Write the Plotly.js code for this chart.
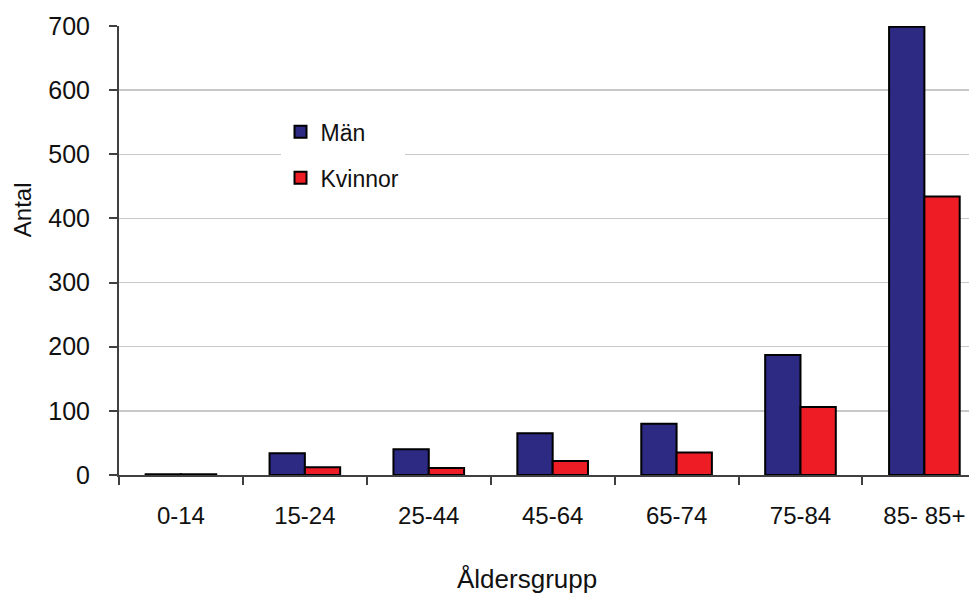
<!DOCTYPE html>
<html>
<head>
<meta charset="utf-8">
<script src="https://cdn.plot.ly/plotly-3.0.1.min.js"></script>
<style>html,body{margin:0;padding:0;background:#fff;}#chart{width:969px;height:595px;}</style>
</head>
<body>
<div id="chart"></div>
<script>
const categories = ["0-14", "15-24", "25-44", "45-64", "65-74", "75-84", "85- 85+"];
const man = [1, 34, 40, 65, 80, 187, 699];
const kvinnor = [1, 12, 11, 22, 35, 106, 434];
const seriesNames = ["Män", "Kvinnor"];
const yTicks = [0, 100, 200, 300, 400, 500, 600, 700];

const font = "Liberation Sans, Arial, sans-serif";

const traces = [
  {type: "bar", x: categories, y: man, name: seriesNames[0], legendgroup: "a",
   marker: {color: "#2D2A83", line: {color: "#000", width: 2}}},
  {type: "bar", x: categories, y: kvinnor, name: seriesNames[1], legendgroup: "b",
   marker: {color: "#EE1D25", line: {color: "#000", width: 2}}}
];

const layout = {
  width: 969, height: 595,
  margin: {l: 119, r: 0, t: 26, b: 120},
  paper_bgcolor: "#fff", plot_bgcolor: "#fff",
  barmode: "group", bargap: 0.43, bargroupgap: 0,
  font: {family: font, size: 22, color: "#000"},
  xaxis: {
    type: "category", range: [-0.5, 6.36],
    showline: true, linecolor: "#404040", linewidth: 2,
    ticks: "outside", tickson: "boundaries", ticklen: 8, tickcolor: "#404040", tickwidth: 2,
    tickfont: {family: font, size: 24, color: "#111"},
    ticklabelstandoff: 18,
    showgrid: false, zeroline: false, fixedrange: true
  },
  yaxis: {
    range: [0, 700], tickvals: yTicks,
    showline: true, linecolor: "#404040", linewidth: 2,
    ticks: "outside", ticklen: 8, tickcolor: "#404040", tickwidth: 2,
    tickfont: {family: font, size: 25, color: "#111"},
    ticklabelstandoff: 14,
    showgrid: true, gridcolor: "#c8c8c8", gridwidth: 1.5,
    zeroline: false, fixedrange: true
  },
  legend: {
    x: 0.19, y: 0.812, xanchor: "left", yanchor: "top",
    bgcolor: "#fff", borderwidth: 0,
    font: {family: font, size: 23, color: "#111"},
    traceorder: "grouped", tracegroupgap: 13,
    itemwidth: 30
  },
  showlegend: true,
  annotations: [
    {text: "Antal", xref: "paper", yref: "paper", x: -0.114, y: 0.59, xanchor: "center", yanchor: "middle",
     textangle: -90, showarrow: false, font: {family: font, size: 24, color: "#111"}},
    {text: "Åldersgrupp", xref: "paper", yref: "paper", x: 0.48, y: -0.232, xanchor: "center", yanchor: "middle",
     showarrow: false, font: {family: font, size: 26, color: "#111"}}
  ]
};

Plotly.newPlot("chart", traces, layout, {displayModeBar: false, staticPlot: true});
</script>
</body>
</html>
